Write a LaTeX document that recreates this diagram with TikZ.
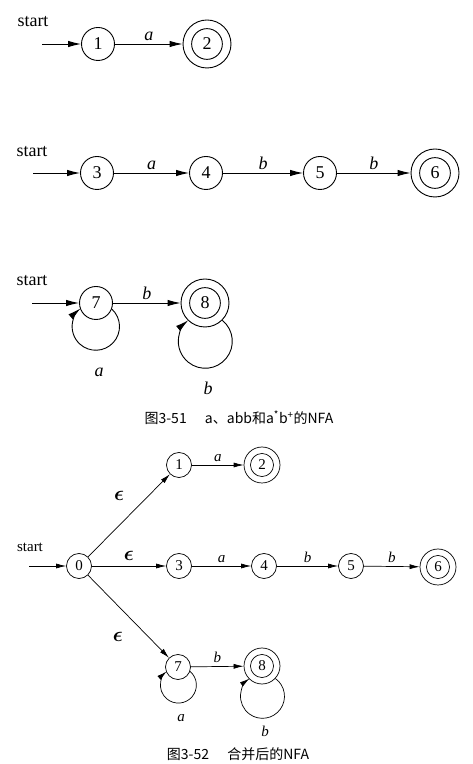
\documentclass[tikz,border=0pt]{standalone}
\usepackage{fontspec}
\usepackage{bm}
\setmainfont{Liberation Serif}
\newfontfamily\cjkfont{Noto Sans CJK SC}
\usetikzlibrary{arrows.meta}

\begin{document}
\begin{tikzpicture}[
            x = 1pt, y = 1pt,
            state/.style={circle, draw, inner sep=0pt, minimum size=#1},
            accept/.style={state=#1, path picture={\draw (path picture bounding box.center) circle[radius=0.32*#1];}},
            eps/.style={font=\fontsize{20}{20}\selectfont, inner sep=4pt},
            caption/.style={font=\cjkfont\fontsize{14}{16}\selectfont},
            ]

        \path[use as bounding box, fill=white] (0,0) rectangle (473,764);

        % figure 3-51
        \begin{scope}[line width=.9pt, font=\fontsize{18}{20}\selectfont,
                      trans/.style={-{Latex[length=13pt, width=6.5pt]}}]
        \node (st1) at (33,742) {start};
        \coordinate (s1) at (42,720);
        \node[state=33pt] (q1) at (98,720) {1};
        \node[accept=48pt] (q2) at (207,720) {2};
        \draw[trans] (s1) -- (q1);
        \draw[trans] (q1) -- node[above] {\textit{a}} (q2);

        \node (st3) at (32,612) {start};
        \coordinate (s3) at (33,591);
        \node[state=33pt] (q3) at (97,591) {3};
        \node[state=33pt] (q4) at (206,591) {4};
        \node[state=33pt] (q5) at (320,591) {5};
        \node[accept=48pt] (q6) at (435,591) {6};
        \draw[trans] (s3) -- (q3);
        \draw[trans] (q3) -- node[above] {\textit{a}} (q4);
        \draw[trans] (q4) -- node[above] {\textit{b}} (q5);
        \draw[trans] (q5) -- node[above] {\textit{b}} (q6);

        \node (st7) at (32,483) {start};
        \coordinate (s7) at (32,461);
        \node[state=33pt] (q7) at (96,461) {7};
        \node[accept=48pt] (q8) at (205,461) {8};
        \draw[trans] (s7) -- (q7);
        \draw[trans] (q7) -- node[above] {\textit{b}} (q8);
        \draw[trans] (q7.-21) arc[start angle=47.5, end angle=-230, radius=23.7pt];
        \draw[trans] (q8.-45) arc[start angle=51, end angle=-231, radius=27pt];
        \node (la7) at (99,392) {\textit{a}};
        \node (lb8) at (208,376) {\textit{b}};
        \end{scope}

        \node[caption] (cap1) at (239,346) {图3-51\hspace{1.3em}a、abb和a\textsuperscript{*}b\textsuperscript{+}的NFA};

        % figure 3-52
        \begin{scope}[line width=.7pt, font=\fontsize{15}{17}\selectfont,
                      trans/.style={-{Latex[length=10pt, width=5pt]}}]
        \node (st0) at (30,217) {start};
        \coordinate (s0) at (29,198);
        \node[state=25pt] (p0) at (79,198) {0};
        \node[state=25pt] (p1) at (179,299) {1};
        \node[accept=36pt] (p2) at (262,299) {2};
        \node[state=25pt] (p3) at (179,198) {3};
        \node[state=25pt] (p4) at (264,198) {4};
        \node[state=25pt] (p5) at (351,198) {5};
        \node[accept=36pt] (p6) at (438,197) {6};
        \node[state=25pt] (p7) at (178,97) {7};
        \node[accept=36pt] (p8) at (262,98) {8};

        \draw[trans] (s0) -- (p0);
        \draw[trans] (p0) -- node[eps, pos=.56, above left=5.5pt] {$\bm{\epsilon}$} (p1);
        \draw[trans] (p0) -- node[eps, above=1pt] {$\bm{\epsilon}$} (p3);
        \draw[trans] (p0) -- node[eps, pos=.56, below left=6pt] {$\bm{\epsilon}$} (p7);
        \draw[trans] (p1) -- node[above] {\textit{a}} (p2);
        \draw[trans] (p3) -- node[above] {\textit{a}} (p4);
        \draw[trans] (p4) -- node[above] {\textit{b}} (p5);
        \draw[trans] (p5) -- node[above] {\textit{b}} (p6);
        \draw[trans] (p7) -- node[above] {\textit{b}} (p8);
        \draw[trans] (p7.-20) arc[start angle=49.5, end angle=-229.5, radius=18pt];
        \draw[trans] (p8.-43) arc[start angle=54, end angle=-234, radius=22pt];
        \node (pa7) at (181,46) {\textit{a}};
        \node (pb8) at (265,33) {\textit{b}};
        \end{scope}

        \node[caption] (cap2) at (238,10) {图3-52\hspace{1.3em}合并后的NFA};
    \end{tikzpicture}
\end{document}
